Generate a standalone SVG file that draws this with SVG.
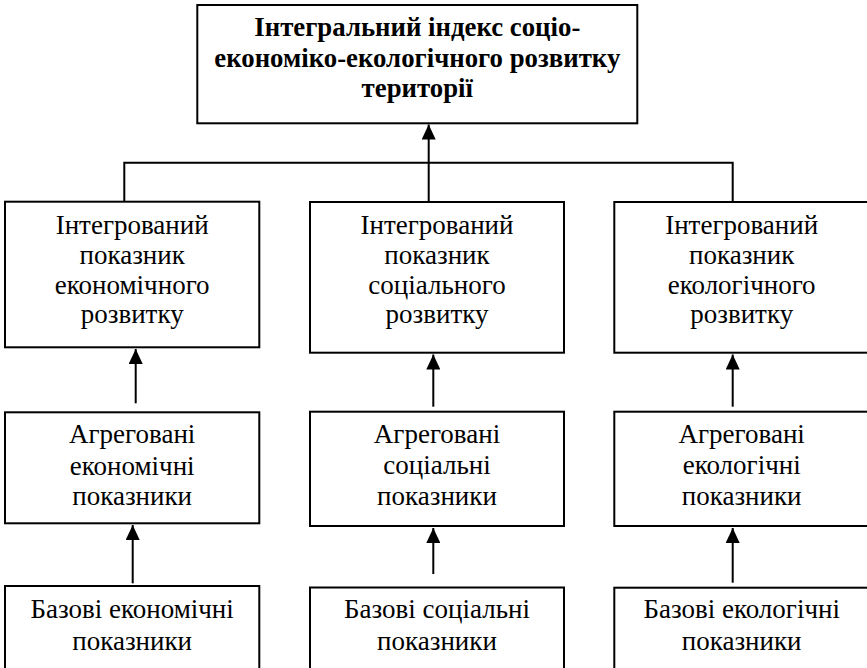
<svg xmlns="http://www.w3.org/2000/svg" width="867" height="668" viewBox="0 0 867 668">
<defs>
<style>
.box{fill:#fff;stroke:#000;stroke-width:2}
.t{font-family:'Liberation Serif','Times New Roman',serif;font-size:27px;text-anchor:middle;fill:#000}
.tb{font-family:'Liberation Serif','Times New Roman',serif;font-size:26.8px;font-weight:bold;text-anchor:middle;fill:#000}
.ln{fill:none;stroke:#000;stroke-width:2}
</style>
<marker id="ah" viewBox="0 0 15 14" refX="15" refY="7" markerWidth="15" markerHeight="14" markerUnits="userSpaceOnUse" orient="auto">
<path d="M0,0 L15,7 L0,14 Z" fill="#000"/>
</marker>
</defs>
<rect width="867" height="668" fill="#fff"/>
<g id="connectors">
<polyline class="ln" points="124.3,202 124.3,162.7 732.7,162.7 732.7,202"/>
<line class="ln" x1="428.7" y1="202" x2="428.7" y2="124.5" marker-end="url(#ah)"/>
<line class="ln" x1="135.7" y1="403.3" x2="135.7" y2="349" marker-end="url(#ah)"/>
<line class="ln" x1="433.3" y1="406.7" x2="433.3" y2="354.5" marker-end="url(#ah)"/>
<line class="ln" x1="732.7" y1="406.7" x2="732.7" y2="354.5" marker-end="url(#ah)"/>
<line class="ln" x1="132.7" y1="583.3" x2="132.7" y2="525" marker-end="url(#ah)"/>
<line class="ln" x1="433.3" y1="574" x2="433.3" y2="528" marker-end="url(#ah)"/>
<line class="ln" x1="732.7" y1="582.7" x2="732.7" y2="528" marker-end="url(#ah)"/>
</g>
<g id="top">
<rect class="box" x="197.3" y="5" width="440" height="118.3"/>
<text class="tb" x="417.3" y="36">Інтегральний індекс соціо-</text>
<text class="tb" x="417.3" y="66.5">економіко-екологічного розвитку</text>
<text class="tb" x="417.3" y="97">території</text>
</g>
<g id="int-econ">
<rect class="box" x="5" y="201.7" width="254.3" height="145.6"/>
<text class="t" x="132.2" y="234.3">Інтегрований</text>
<text class="t" x="132.2" y="264">показник</text>
<text class="t" x="132.2" y="294">економічного</text>
<text class="t" x="132.2" y="323.3">розвитку</text>
</g>
<g id="int-soc">
<rect class="box" x="310" y="202" width="254" height="150.7"/>
<text class="t" x="437" y="234.3">Інтегрований</text>
<text class="t" x="437" y="264">показник</text>
<text class="t" x="437" y="294">соціального</text>
<text class="t" x="437" y="323.3">розвитку</text>
</g>
<g id="int-eco">
<rect class="box" x="614.3" y="202" width="255" height="150.7"/>
<text class="t" x="741.7" y="234.3">Інтегрований</text>
<text class="t" x="741.7" y="264">показник</text>
<text class="t" x="741.7" y="294">екологічного</text>
<text class="t" x="741.7" y="323.3">розвитку</text>
</g>
<g id="agg-econ">
<rect class="box" x="5" y="412.3" width="254.3" height="111"/>
<text class="t" x="132.2" y="443.3">Агреговані</text>
<text class="t" x="132.2" y="475">економічні</text>
<text class="t" x="132.2" y="505">показники</text>
</g>
<g id="agg-soc">
<rect class="box" x="310" y="411.7" width="254" height="114.3"/>
<text class="t" x="437" y="443.3">Агреговані</text>
<text class="t" x="437" y="474">соціальні</text>
<text class="t" x="437" y="505">показники</text>
</g>
<g id="agg-eco">
<rect class="box" x="614.3" y="411.7" width="255" height="114.3"/>
<text class="t" x="741.7" y="443.3">Агреговані</text>
<text class="t" x="741.7" y="474">екологічні</text>
<text class="t" x="741.7" y="505">показники</text>
</g>
<g id="base-econ">
<rect class="box" x="5" y="586" width="254.3" height="90"/>
<text class="t" x="132.2" y="618.3">Базові економічні</text>
<text class="t" x="132.2" y="650">показники</text>
</g>
<g id="base-soc">
<rect class="box" x="310" y="587.5" width="254" height="90"/>
<text class="t" x="437" y="618.3">Базові соціальні</text>
<text class="t" x="437" y="650">показники</text>
</g>
<g id="base-eco">
<rect class="box" x="614.3" y="587.7" width="255" height="90"/>
<text class="t" x="741.7" y="618.3">Базові екологічні</text>
<text class="t" x="741.7" y="650">показники</text>
</g>
</svg>
